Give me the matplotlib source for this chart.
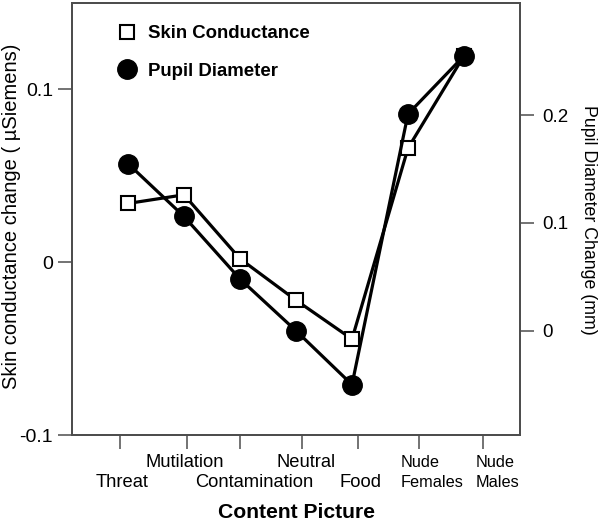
import numpy as np
import matplotlib
matplotlib.use("Agg")
import matplotlib.pyplot as plt
from matplotlib.lines import Line2D
from matplotlib.transforms import offset_copy

plt.rcParams["font.family"] = ["Liberation Sans", "DejaVu Sans"]

# ── data ────────────────────────────────────────────────────────────────
categories = ["Threat", "Mutilation", "Contamination", "Neutral", "Food",
              "Nude\nFemales", "Nude\nMales"]
skin_conductance = [0.034, 0.039, 0.002, -0.022, -0.0445, 0.066, 0.1195]  # µSiemens
pupil_diameter = [0.155, 0.106, 0.048, 0.000, -0.050, 0.201, 0.255]       # mm
tick_pos = [-0.14, 1.05, 2.0, 3.1, 4.1, 5.19, 6.34]
left_ticks = [-0.1, 0, 0.1]
left_labels = ["-0.1", "0", "0.1"]
right_ticks = [0, 0.1, 0.2]
right_labels = ["0", "0.1", "0.2"]

FRAME = "#4d4d4d"

fig = plt.figure(figsize=(6, 5.21), dpi=100)
ax = fig.add_axes([72 / 600, 86 / 521, 448 / 600, 432 / 521])
ax2 = ax.twinx()

x = np.arange(len(categories))

ax.plot(x, skin_conductance, color="black", lw=2.3, marker="s", ms=10,
        mfc="white", mec="black", mew=1.5, zorder=3)
ax2.plot(x, pupil_diameter, color="black", lw=2.3, marker="o", ms=14,
         mfc="black", mec="black", zorder=3)

ax.set_xlim(-1, 7)
ax.set_ylim(-0.1, 0.15)
ax2.set_ylim(-0.0967, 0.304)

ax.set_yticks(left_ticks)
ax.set_yticklabels(left_labels, fontsize=14)
ax2.set_yticks(right_ticks)
ax2.set_yticklabels(right_labels, fontsize=13.5)
ax.set_xticks(tick_pos)
ax.set_xticklabels([""] * len(tick_pos))

for a in (ax, ax2):
    for sp in a.spines.values():
        sp.set_color(FRAME)
        sp.set_linewidth(1.3)
ax.tick_params(axis="both", direction="out", length=10, width=1.1, color=FRAME)
ax.tick_params(axis="y", pad=3.5)
ax2.tick_params(axis="y", direction="out", length=10, width=1.1, color=FRAME, pad=6)

# staggered category labels (high row / low row)
high_y, low_y = -0.074, -0.120
rows = ["low", "high", "low", "high", "low", "both", "both"]
dx_px = [1.5, -2.5, 14, 4, 3, -18, -7]
trans = ax.get_xaxis_transform()
for pos, lab, row, dx in zip(tick_pos, categories, rows, dx_px):
    tr = offset_copy(trans, fig=fig, x=dx, y=0, units="dots")
    if row == "both":
        top, bottom = lab.split("\n")
        ax.text(pos, high_y, top, transform=tr, ha="left", va="baseline",
                fontsize=11.7, clip_on=False)
        ax.text(pos, low_y, bottom, transform=tr, ha="left", va="baseline",
                fontsize=11.7, clip_on=False)
    else:
        ax.text(pos, high_y if row == "high" else low_y, lab, transform=tr,
                ha="center", va="baseline", fontsize=13.2, clip_on=False)

fig.text(296 / 600, 3 / 521, "Content Picture", ha="center", va="baseline",
         fontsize=15.2, fontweight="bold")
fig.text(12 / 600, (521 - 216.5) / 521, "Skin conductance change ( µSiemens)",
         rotation=90, ha="center", va="center", fontsize=14.5)
fig.text(588 / 600, (521 - 220) / 521, "Pupil Diameter Change (mm)",
         rotation=270, ha="center", va="center", fontsize=12.8)

handles = [
    Line2D([], [], ls="none", marker="s", ms=10, mfc="white", mec="black", mew=1.5),
    Line2D([], [], ls="none", marker="o", ms=14, mfc="black", mec="black"),
]
leg = ax2.legend(handles, ["Skin Conductance", "Pupil Diameter"],
                 loc="upper left", bbox_to_anchor=(0.1016, 0.948),
                 frameon=False, borderpad=0, borderaxespad=0,
                 handlelength=1.0, handletextpad=0.66, labelspacing=1.08,
                 prop={"weight": "bold", "size": 13.4})

fig.savefig("out.png", dpi=100)
